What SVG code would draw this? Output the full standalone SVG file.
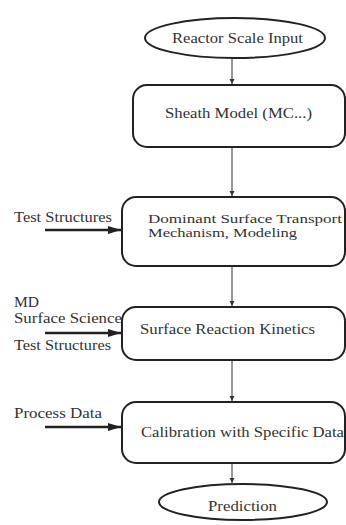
<svg xmlns="http://www.w3.org/2000/svg" width="346" height="525" viewBox="0 0 346 525">
<style>
.shape{fill:#fff;stroke:#222;stroke-width:2}
.t{font-family:"Liberation Serif","Times New Roman",serif;font-size:15px;fill:#333}
.s{font-size:13.5px}
.thin{stroke:#333;stroke-width:1;fill:none}
.thick{stroke:#222;stroke-width:2.5;fill:none}
</style>
<defs>
<marker id="sm" markerWidth="6" markerHeight="6" refX="5" refY="3" orient="auto" markerUnits="userSpaceOnUse"><path d="M0,0.5 L5,3 L0,5.5 Z" fill="#333"/></marker>
<marker id="big" markerWidth="14" markerHeight="10" refX="13" refY="5" orient="auto" markerUnits="userSpaceOnUse"><path d="M0,1 L13,5 L0,9 Z" fill="#222"/></marker>
</defs>
<rect width="346" height="525" fill="#fff"/>
<g id="connectors">
<line class="thin" x1="232" y1="58" x2="232" y2="84" marker-end="url(#sm)"/>
<line class="thin" x1="232" y1="147" x2="232" y2="196" marker-end="url(#sm)"/>
<line class="thin" x1="232" y1="266" x2="232" y2="306" marker-end="url(#sm)"/>
<line class="thin" x1="232" y1="360" x2="232" y2="401" marker-end="url(#sm)"/>
<line class="thin" x1="232" y1="463" x2="232" y2="483" marker-end="url(#sm)"/>
<line class="thick" x1="45" y1="230" x2="121" y2="230" marker-end="url(#big)"/>
<line class="thick" x1="45" y1="333" x2="121" y2="333" marker-end="url(#big)"/>
<line class="thick" x1="45" y1="427" x2="121" y2="427" marker-end="url(#big)"/>
</g>
<g id="reactor">
<ellipse class="shape" cx="235" cy="38" rx="90" ry="20"/>
<text class="t" x="172" y="43" textLength="131" lengthAdjust="spacingAndGlyphs">Reactor Scale Input</text>
</g>
<g id="sheath">
<rect class="shape" x="133" y="85" width="212" height="62" rx="14"/>
<text class="t" x="165" y="118" textLength="147" lengthAdjust="spacingAndGlyphs">Sheath Model (MC...)</text>
</g>
<g id="transport">
<rect class="shape" x="122" y="197" width="223" height="69" rx="14"/>
<text class="t s" x="148" y="223" textLength="194" lengthAdjust="spacingAndGlyphs">Dominant Surface Transport</text>
<text class="t s" x="148" y="237" textLength="149" lengthAdjust="spacingAndGlyphs">Mechanism, Modeling</text>
</g>
<g id="transport-input">
<text class="t" x="14" y="222" textLength="98" lengthAdjust="spacingAndGlyphs">Test Structures</text>
</g>
<g id="kinetics">
<rect class="shape" x="122" y="307" width="223" height="53" rx="14"/>
<text class="t" x="140" y="334" textLength="175" lengthAdjust="spacingAndGlyphs">Surface Reaction Kinetics</text>
</g>
<g id="kinetics-input">
<text class="t" x="14" y="307" textLength="25" lengthAdjust="spacingAndGlyphs">MD</text>
<text class="t" x="14" y="323" textLength="108" lengthAdjust="spacingAndGlyphs">Surface Science</text>
<text class="t" x="14" y="350" textLength="97" lengthAdjust="spacingAndGlyphs">Test Structures</text>
</g>
<g id="calibration">
<rect class="shape" x="122" y="402" width="223" height="61" rx="14"/>
<text class="t" x="141" y="437" textLength="203" lengthAdjust="spacingAndGlyphs">Calibration with Specific Data</text>
</g>
<g id="calibration-input">
<text class="t" x="14" y="418" textLength="88" lengthAdjust="spacingAndGlyphs">Process Data</text>
</g>
<g id="prediction">
<ellipse class="shape" cx="243" cy="502" rx="84" ry="18"/>
<text class="t" x="208" y="511" textLength="69" lengthAdjust="spacingAndGlyphs">Prediction</text>
</g>
</svg>
